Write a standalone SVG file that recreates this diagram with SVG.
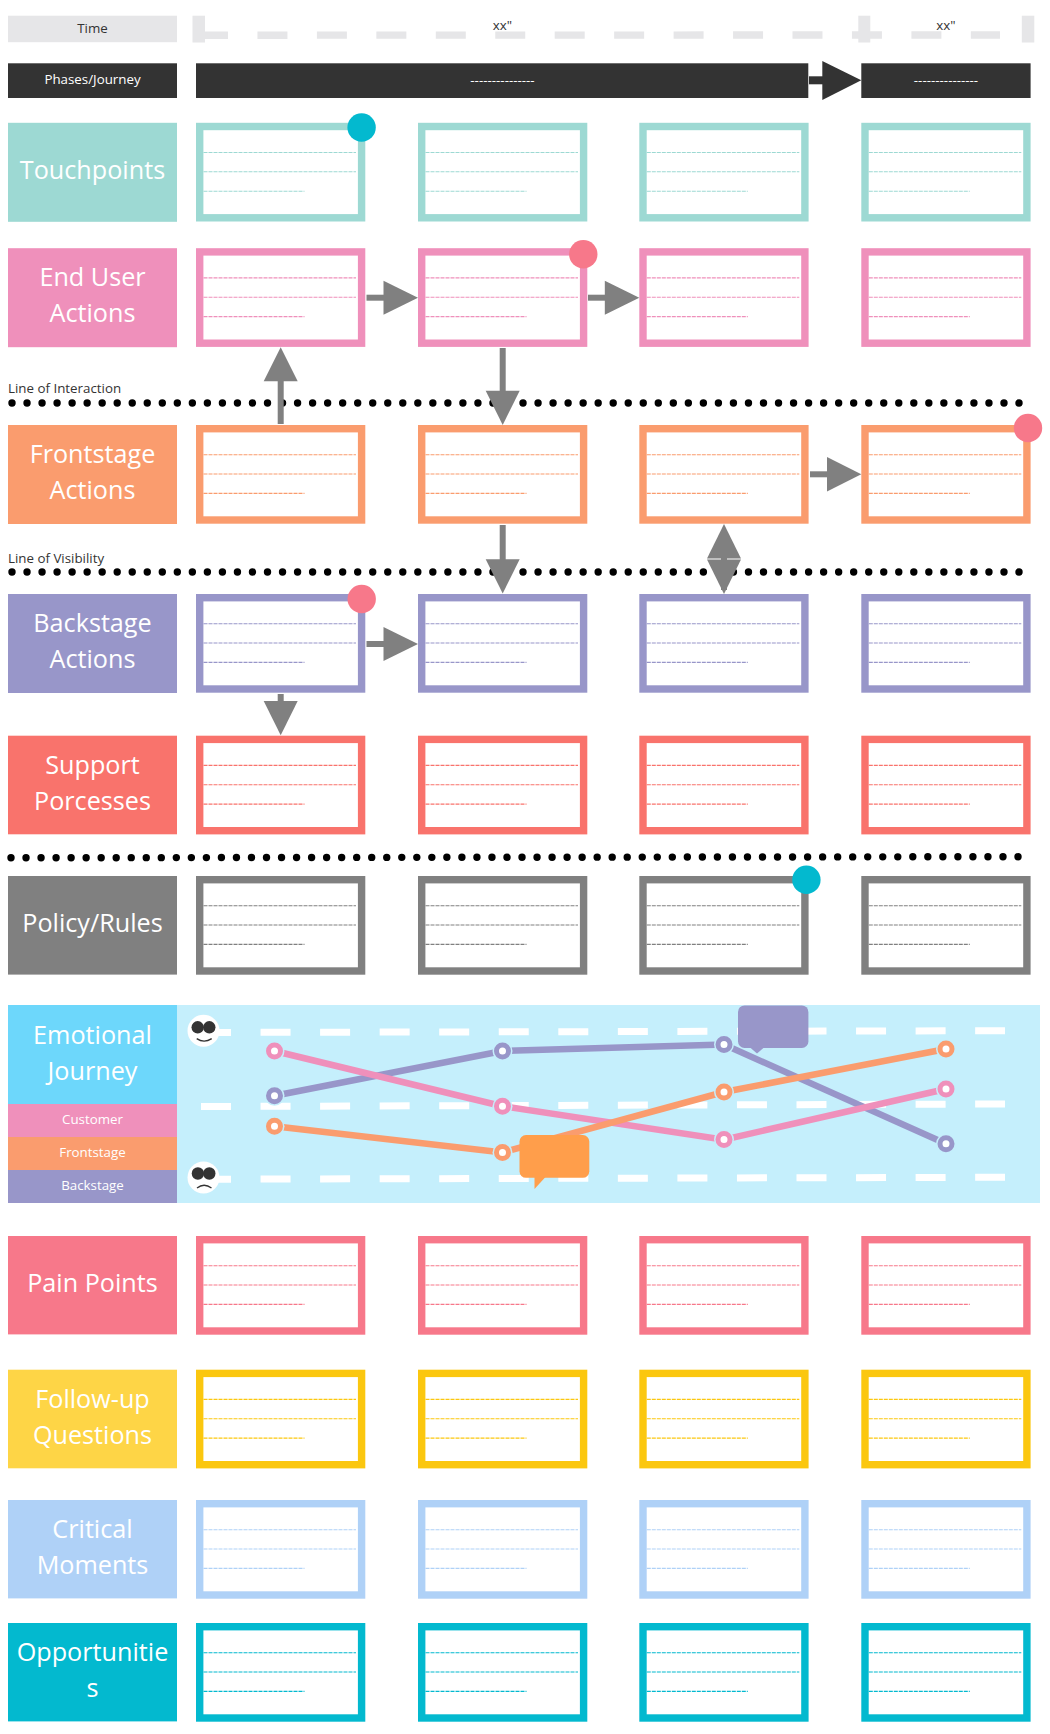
<svg xmlns="http://www.w3.org/2000/svg" xmlns:xlink="http://www.w3.org/1999/xlink" width="1050" height="1734" viewBox="0 0 1050 1734">
<style>
text{font-family:"Open Sans","Noto Sans","Liberation Sans",sans-serif}
.big{font-size:25.2px;fill:#fff;text-anchor:middle}
.sm{font-size:13.33px;fill:#fff;text-anchor:middle}
.dk{font-size:13.33px;fill:#333}
.mid{text-anchor:middle}
.teal{color:#9dd9d3}.pink{color:#ef90bb}.orange{color:#fa9c6e}.purple{color:#9896c9}.support{color:#f9736c}.policy{color:#808080}.pain{color:#f7788a}.follow{color:#fbc70f}.critical{color:#afd1f7}.opp{color:#03b9cf}
.cell{fill:currentColor}
.dots{fill:none;stroke:#000;stroke-width:7.4;stroke-linecap:round;stroke-dasharray:0 15.03}
.arrow{stroke:#808080;stroke-width:6;fill:none}
.head{fill:#808080}
.wd{fill:none;stroke:#fff;stroke-width:7;stroke-dasharray:30 29.55}
.seg{fill:none;stroke-width:6.5}
.halo{fill:#c5effc}
.ring{fill:#fff;stroke-width:5}
.eye{fill:#333}
.mouth{fill:none;stroke:#333;stroke-width:1.3}
</style>
<defs>
<g id="card">
<rect x="3.7" y="3.7" width="161.9" height="91.3" fill="#fff" stroke="currentColor" stroke-width="7.4"/>
<path d="M7.5 29.7H160M7.5 49H160M7.5 68.4H108.5" fill="none" stroke="currentColor" stroke-width="1.1" stroke-dasharray="4 1"/>
</g>
</defs>
<rect width="1050" height="1734" fill="#fff"/>

<g id="time-axis" fill="#e6e6e8">
<path d="M198 35.2L1000 35" fill="none" stroke="#e6e6e8" stroke-width="7.4" stroke-dasharray="30 29.45"/>
<rect x="192.5" y="15.7" width="12.5" height="26.8"/>
<rect x="858.3" y="15.7" width="12" height="26.8"/>
<rect x="1021.8" y="15.7" width="12.5" height="26.8"/>
<text class="dk mid" x="502.5" y="30">xx"</text>
<text class="dk mid" x="946" y="30">xx"</text>
</g>
<g id="time-label"><rect x="8" y="15.7" width="169" height="26.5" fill="#e6e6e8"/><text class="dk mid" x="92.5" y="33">Time</text></g>
<g id="phases-label"><rect x="8" y="63.3" width="169" height="34.7" fill="#333"/><text class="sm" x="92.5" y="84">Phases/Journey</text></g>
<g id="phase-1"><rect x="196" y="63.3" width="612.3" height="34.7" fill="#333"/><text class="sm" x="502.5" y="84.5">---------------</text></g>
<g id="phase-2"><rect x="861.3" y="63.3" width="169.3" height="34.7" fill="#333"/><text class="sm" x="946" y="84.5">---------------</text></g>

<g id="lbl-touchpoints" class="teal"><rect class="cell" x="8" y="122.8" width="169" height="99"/><text class="big" x="92.5" y="178.5">Touchpoints</text></g>
<g id="touch-1" class="teal"><use href="#card" x="196" y="122.8"/></g>
<g id="touch-2" class="teal"><use href="#card" x="418" y="122.8"/></g>
<g id="touch-3" class="teal"><use href="#card" x="639.3" y="122.8"/></g>
<g id="touch-4" class="teal"><use href="#card" x="861.3" y="122.8"/></g>

<g id="lbl-enduser" class="pink"><rect class="cell" x="8" y="248.2" width="169" height="99"/><text class="big" x="92.5" y="285.5">End User</text><text class="big" x="92.5" y="321.5">Actions</text></g>
<g id="user-1" class="pink"><use href="#card" x="196" y="248.2"/></g>
<g id="user-2" class="pink"><use href="#card" x="418" y="248.2"/></g>
<g id="user-3" class="pink"><use href="#card" x="639.3" y="248.2"/></g>
<g id="user-4" class="pink"><use href="#card" x="861.3" y="248.2"/></g>

<g id="lbl-frontstage" class="orange"><rect class="cell" x="8" y="425" width="169" height="99"/><text class="big" x="92.5" y="463">Frontstage</text><text class="big" x="92.5" y="499">Actions</text></g>
<g id="front-1" class="orange"><use href="#card" x="196" y="425"/></g>
<g id="front-2" class="orange"><use href="#card" x="418" y="425"/></g>
<g id="front-3" class="orange"><use href="#card" x="639.3" y="425"/></g>
<g id="front-4" class="orange"><use href="#card" x="861.3" y="425"/></g>

<g id="lbl-backstage" class="purple"><rect class="cell" x="8" y="594" width="169" height="99"/><text class="big" x="92.5" y="632">Backstage</text><text class="big" x="92.5" y="668">Actions</text></g>
<g id="back-1" class="purple"><use href="#card" x="196" y="594"/></g>
<g id="back-2" class="purple"><use href="#card" x="418" y="594"/></g>
<g id="back-3" class="purple"><use href="#card" x="639.3" y="594"/></g>
<g id="back-4" class="purple"><use href="#card" x="861.3" y="594"/></g>

<g id="lbl-support" class="support"><rect class="cell" x="8" y="735.7" width="169" height="98.6"/><text class="big" x="92.5" y="774">Support</text><text class="big" x="92.5" y="810">Porcesses</text></g>
<g id="support-1" class="support"><use href="#card" x="196" y="735.7"/></g>
<g id="support-2" class="support"><use href="#card" x="418" y="735.7"/></g>
<g id="support-3" class="support"><use href="#card" x="639.3" y="735.7"/></g>
<g id="support-4" class="support"><use href="#card" x="861.3" y="735.7"/></g>

<g id="lbl-policy" class="policy"><rect class="cell" x="8" y="876" width="169" height="98.6"/><text class="big" x="92.5" y="932">Policy/Rules</text></g>
<g id="policy-1" class="policy"><use href="#card" x="196" y="876"/></g>
<g id="policy-2" class="policy"><use href="#card" x="418" y="876"/></g>
<g id="policy-3" class="policy"><use href="#card" x="639.3" y="876"/></g>
<g id="policy-4" class="policy"><use href="#card" x="861.3" y="876"/></g>

<g id="lbl-pain" class="pain"><rect class="cell" x="8" y="1236" width="169" height="98.4"/><text class="big" x="92.5" y="1292">Pain Points</text></g>
<g id="pain-1" class="pain"><use href="#card" x="196" y="1236"/></g>
<g id="pain-2" class="pain"><use href="#card" x="418" y="1236"/></g>
<g id="pain-3" class="pain"><use href="#card" x="639.3" y="1236"/></g>
<g id="pain-4" class="pain"><use href="#card" x="861.3" y="1236"/></g>

<g id="lbl-follow"><rect x="8" y="1369.7" width="169" height="98.6" fill="#fed546"/><text class="big" x="92.5" y="1408">Follow-up</text><text class="big" x="92.5" y="1444">Questions</text></g>
<g id="follow-1" class="follow"><use href="#card" x="196" y="1369.7"/></g>
<g id="follow-2" class="follow"><use href="#card" x="418" y="1369.7"/></g>
<g id="follow-3" class="follow"><use href="#card" x="639.3" y="1369.7"/></g>
<g id="follow-4" class="follow"><use href="#card" x="861.3" y="1369.7"/></g>

<g id="lbl-critical" class="critical"><rect class="cell" x="8" y="1500" width="169" height="98.4"/><text class="big" x="92.5" y="1538">Critical</text><text class="big" x="92.5" y="1574">Moments</text></g>
<g id="critical-1" class="critical"><use href="#card" x="196" y="1500"/></g>
<g id="critical-2" class="critical"><use href="#card" x="418" y="1500"/></g>
<g id="critical-3" class="critical"><use href="#card" x="639.3" y="1500"/></g>
<g id="critical-4" class="critical"><use href="#card" x="861.3" y="1500"/></g>

<g id="lbl-opportunities" class="opp"><rect class="cell" x="8" y="1623" width="169" height="98.4"/><text class="big" x="92.5" y="1661">Opportunitie</text><text class="big" x="92.5" y="1697">s</text></g>
<g id="opp-1" class="opp"><use href="#card" x="196" y="1623"/></g>
<g id="opp-2" class="opp"><use href="#card" x="418" y="1623"/></g>
<g id="opp-3" class="opp"><use href="#card" x="639.3" y="1623"/></g>
<g id="opp-4" class="opp"><use href="#card" x="861.3" y="1623"/></g>

<g id="divider-lines">
<path class="dots" d="M12 403H1020"/>
<path class="dots" d="M12 572H1020"/>
<path class="dots" d="M11 857.8L1019 856.7"/>
<text class="dk" x="8" y="392.5">Line of Interaction</text>
<text class="dk" x="8" y="562.5">Line of Visibility</text>
</g>

<g id="connectors">
<path d="M809 80.3H830" stroke="#333" stroke-width="8" fill="none"/><path d="M822.3 61L861.3 80.3L822.3 100Z" fill="#333"/>
<path class="arrow" d="M366.5 297.7H390"/><path class="head" d="M383.5 280.7L418 297.7L383.5 314.7Z"/>
<path class="arrow" d="M588 297.7H610"/><path class="head" d="M604.8 280.7L639.3 297.7L604.8 314.7Z"/>
<path class="arrow" d="M280.7 424V375"/><path class="head" d="M263.7 381.3L280.7 347.3L297.7 381.3Z"/>
<path class="arrow" d="M502.7 348V395"/><path class="head" d="M485.7 390.7L502.7 425L519.7 390.7Z"/>
<path class="arrow" d="M502.7 525V565"/><path class="head" d="M485.7 559.3L502.7 593.5L519.7 559.3Z"/>
<path class="arrow" d="M724 530V590"/><path class="head" d="M707 558.5L724 524L741 558.5Z"/><path class="head" d="M707 559.5L724 594L741 559.5Z"/>
<path class="arrow" d="M810 474.3H833"/><path class="head" d="M827 457L861.3 474.3L827 491.5Z"/>
<path class="arrow" d="M366.5 644H390"/><path class="head" d="M383.5 627L418 644L383.5 661Z"/>
<path class="arrow" d="M280.7 694V706"/><path class="head" d="M263.7 701L280.7 735.3L297.7 701Z"/>
</g>

<g id="badges">
<circle cx="361.6" cy="127.5" r="14.2" fill="#03b9cf"/>
<circle cx="583.3" cy="254.3" r="14.2" fill="#f7788a"/>
<circle cx="1028" cy="428" r="14.2" fill="#f7788a"/>
<circle cx="361.7" cy="599" r="14.2" fill="#f7788a"/>
<circle cx="806.4" cy="879.7" r="14.2" fill="#03b9cf"/>
</g>

<g id="emotional-journey">
<rect x="177" y="1005" width="863" height="198" fill="#c5effc"/>
<rect x="8" y="1005" width="169" height="99" fill="#6dd7fb"/>
<text class="big" x="92.5" y="1044">Emotional</text><text class="big" x="92.5" y="1079.5">Journey</text>
<rect x="8" y="1104" width="169" height="33.2" fill="#ef90bb"/><text class="sm" x="92.5" y="1124">Customer</text>
<rect x="8" y="1137" width="169" height="33.2" fill="#fa9c6e"/><text class="sm" x="92.5" y="1157">Frontstage</text>
<rect x="8" y="1170" width="169" height="33" fill="#9896c9"/><text class="sm" x="92.5" y="1190">Backstage</text>
<path class="wd" d="M201 1032.5L1005 1030.7"/>
<path class="wd" d="M201 1106.5L1005 1104"/>
<path class="wd" d="M201 1179.2L1005 1177.3"/>
</g>
<g id="face-happy">
<circle cx="203.5" cy="1030.8" r="16" fill="#fff"/><circle class="eye" cx="197.7" cy="1027.3" r="6.2"/><circle class="eye" cx="209.3" cy="1027.3" r="6.2"/><path class="mouth" d="M196.7 1038.6Q204 1043.5 211.7 1038.6"/>
</g>
<g id="face-sad">
<circle cx="203.5" cy="1177.5" r="16" fill="#fff"/><circle class="eye" cx="197.9" cy="1173.5" r="6.2"/><circle class="eye" cx="209.3" cy="1173.5" r="6.2"/><path class="mouth" d="M197 1188Q204 1182.5 211.5 1188"/>
</g>
<g id="bubble-purple"><rect x="738" y="1005.4" width="70.4" height="42.6" rx="6.5" fill="#9896c9"/><path d="M749.5 1047L757 1053.5L764.5 1047Z" fill="#9896c9"/></g>
<g id="journey-lines">
<path class="seg" stroke="#9896c9" d="M274.5 1095.8L502.5 1051L724 1044.6L946 1143.7"/>
<path class="seg" stroke="#ef90bb" d="M274.5 1051L502.5 1106.2L724 1139.6L946 1089"/>
<path class="seg" stroke="#fa9c6e" d="M274.5 1126.3L502.5 1152.4L724 1092L946 1049"/>
</g>
<g id="bubble-orange"><rect x="519.5" y="1135" width="69.8" height="42.8" rx="6.5" fill="#ff9e4b"/><path d="M534.5 1177L534.5 1189L545.5 1177Z" fill="#ff9e4b"/></g>
<g id="journey-points">
<circle class="halo" cx="274.5" cy="1051" r="10"/><circle class="halo" cx="502.5" cy="1106.2" r="10"/><circle class="halo" cx="724" cy="1139.6" r="10"/><circle class="halo" cx="946" cy="1089" r="10"/>
<circle class="halo" cx="274.5" cy="1095.8" r="10"/><circle class="halo" cx="502.5" cy="1051" r="10"/><circle class="halo" cx="724" cy="1044.6" r="10"/><circle class="halo" cx="946" cy="1143.7" r="10"/>
<circle class="halo" cx="274.5" cy="1126.3" r="10"/><circle class="halo" cx="502.5" cy="1152.4" r="10"/><circle class="halo" cx="724" cy="1092" r="10"/><circle class="halo" cx="946" cy="1049" r="10"/>
<g stroke="#ef90bb"><circle class="ring" cx="274.5" cy="1051" r="6"/><circle class="ring" cx="502.5" cy="1106.2" r="6"/><circle class="ring" cx="724" cy="1139.6" r="6"/><circle class="ring" cx="946" cy="1089" r="6"/></g>
<g stroke="#9896c9"><circle class="ring" cx="274.5" cy="1095.8" r="6"/><circle class="ring" cx="502.5" cy="1051" r="6"/><circle class="ring" cx="724" cy="1044.6" r="6"/><circle class="ring" cx="946" cy="1143.7" r="6"/></g>
<g stroke="#fa9c6e"><circle class="ring" cx="274.5" cy="1126.3" r="6"/><circle class="ring" cx="502.5" cy="1152.4" r="6"/><circle class="ring" cx="724" cy="1092" r="6"/><circle class="ring" cx="946" cy="1049" r="6"/></g>
</g>
</svg>
